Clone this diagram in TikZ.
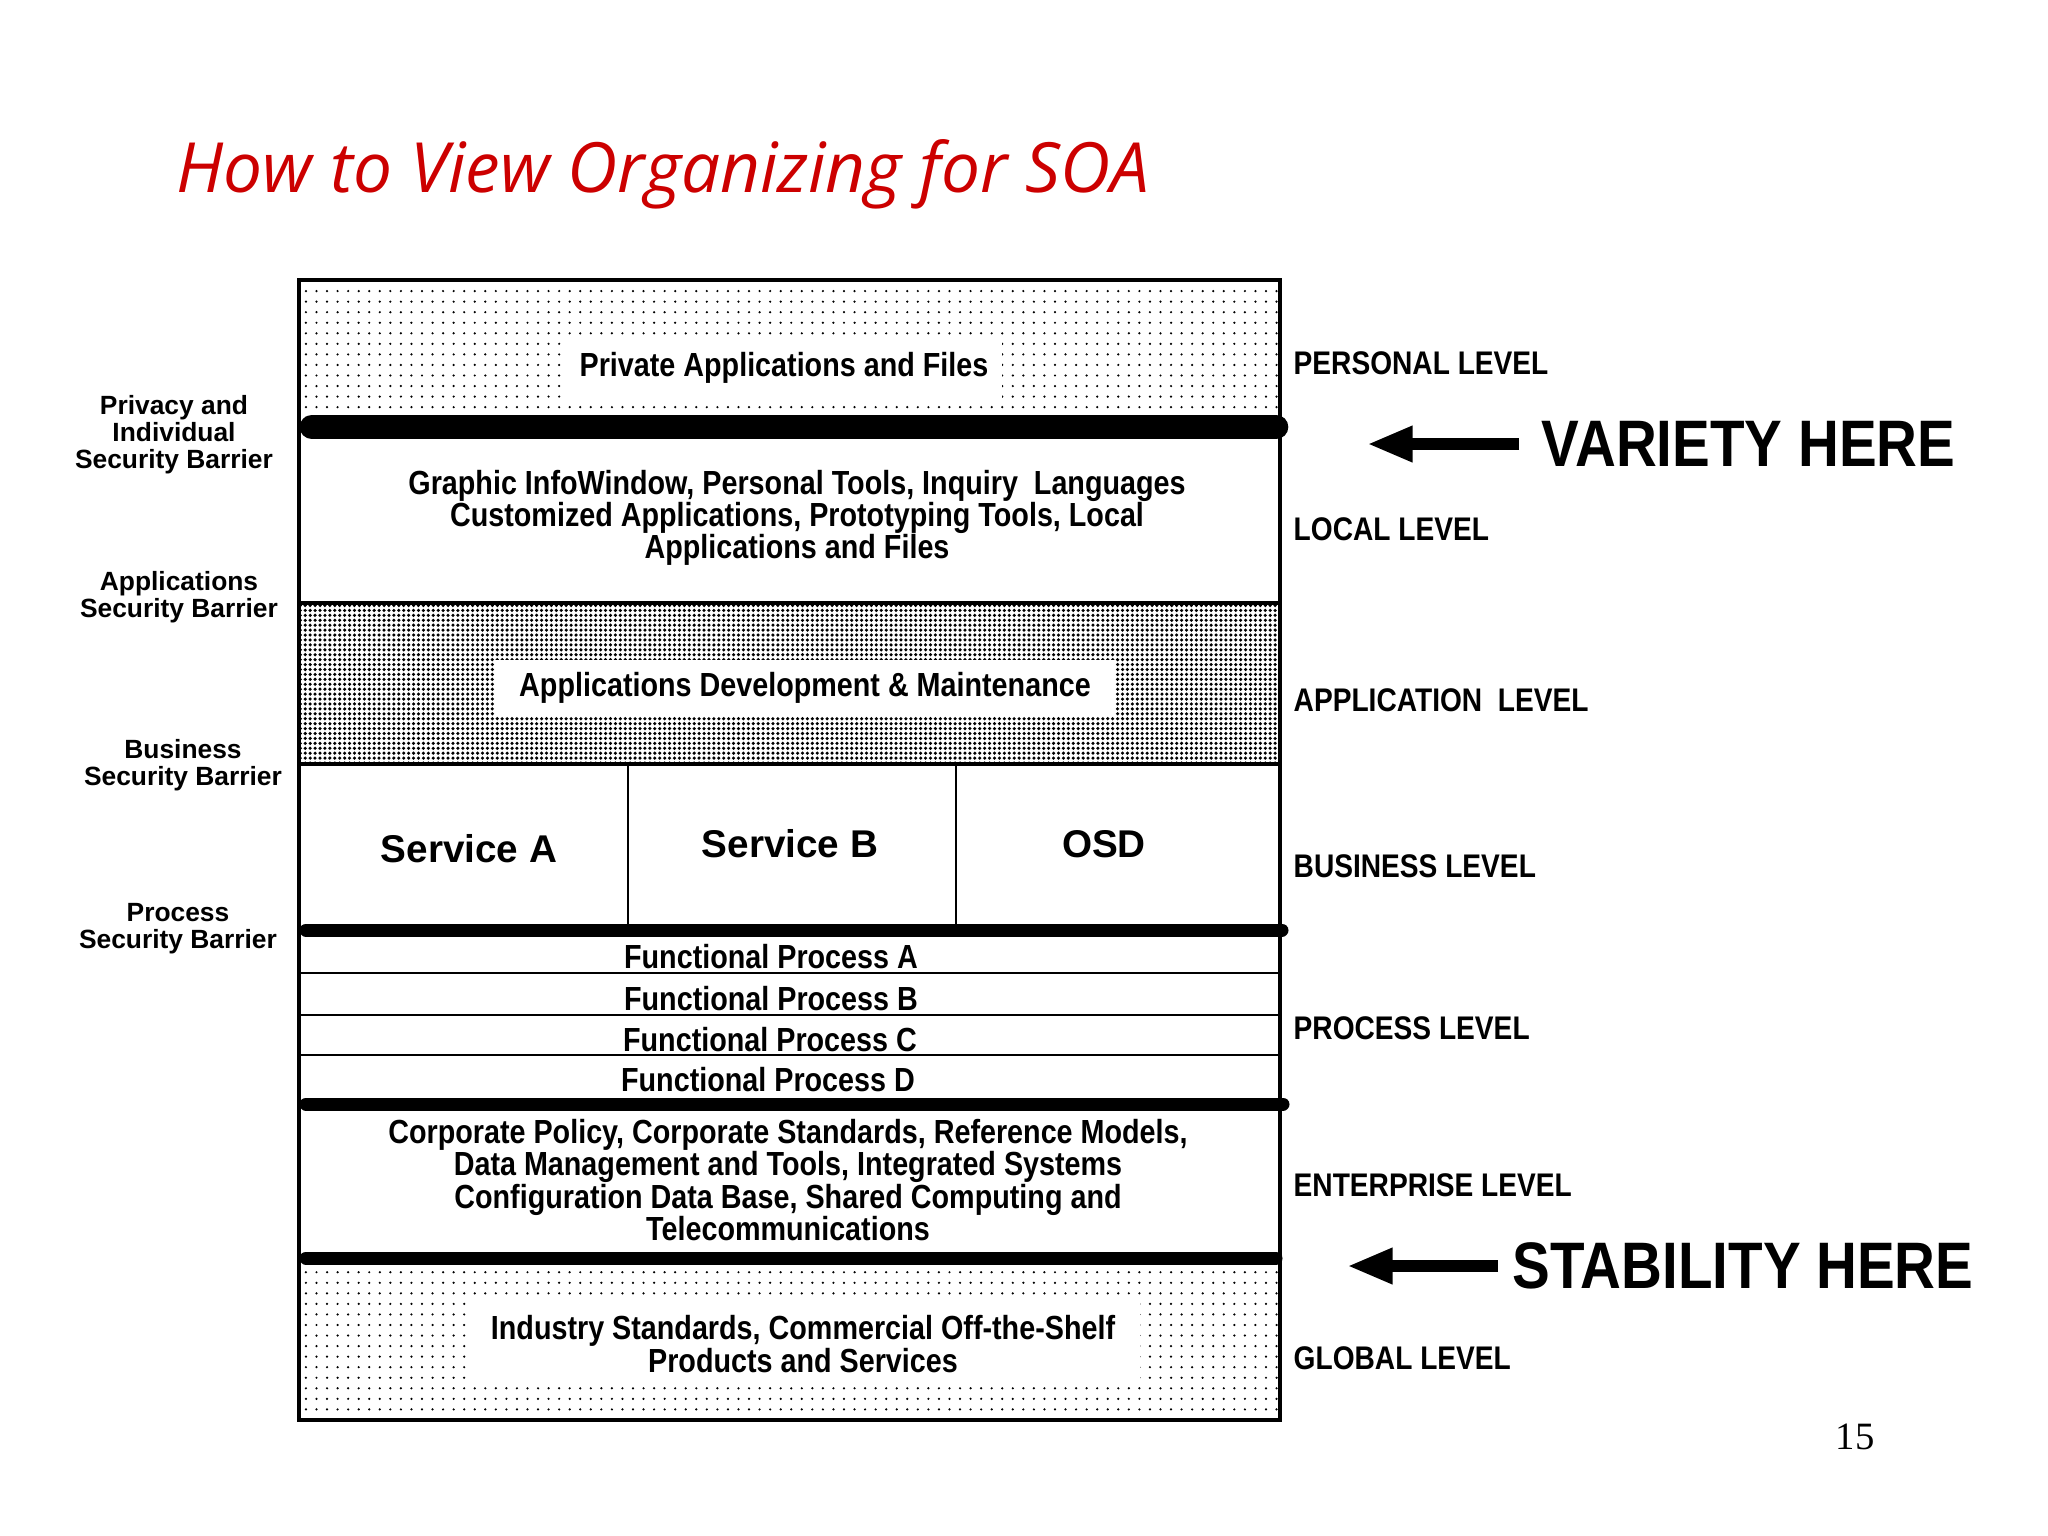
\documentclass[tikz,border=0pt]{standalone}
\usepackage{fontspec}
\setmainfont{Liberation Sans}
\newfontfamily\condfont[FakeStretch=0.86]{Liberation Sans}
\newfontfamily\titlefont{Open Sans}
\newfontfamily\pagefont{Liberation Serif}
\usetikzlibrary{arrows.meta,patterns.meta}
\definecolor{titlered}{RGB}{204,0,0}

\begin{document}
\begin{tikzpicture}[x=0.01cm,y=-0.01cm,
	boxtext/.style={font=\condfont\bfseries\fontsize{9.5}{9.2}\selectfont, align=center, inner sep=1pt},
	levelname/.style={font=\condfont\bfseries\fontsize{9.3}{10}\selectfont, anchor=west, inner sep=0pt},
	barrier/.style={font=\bfseries\fontsize{7.5}{7.7}\selectfont, align=center, inner sep=0pt},
	service/.style={font=\bfseries\fontsize{11}{13}\selectfont, inner sep=0pt},
	bigword/.style={font=\condfont\bfseries\fontsize{18.7}{20}\selectfont, anchor=west, inner sep=0pt},
	bigarrow/.style={line width=3.3pt, -{Triangle[length=13pt,width=9.5pt]}},
	sparse/.style={pattern={Dots[distance=3pt,radius=0.35pt]}},
	dense/.style={pattern={Dots[distance=1.4pt,radius=0.5pt]}}]
	\useasboundingbox (0,0) rectangle (2048,1536);

	\node[font=\titlefont\itshape\fontsize{19.7}{24}\selectfont, text=titlered, anchor=base west, inner sep=0pt] (title) at (176,192) {How to View Organizing for SOA};

	% shaded layers
	\fill[sparse] (299,280) rectangle (1280,420);
	\fill[dense] (299,603) rectangle (1280,764);
	\fill[sparse] (299,1258) rectangle (1280,1420);

	% texts in the stack
	\node[boxtext, fill=white, inner xsep=4pt, inner ysep=5pt] (personal) at (784,368) {Private Applications and Files};
	\node[boxtext] (local) at (797,518) {Graphic InfoWindow, Personal Tools, Inquiry\ \ Languages\\ Customized Applications, Prototyping Tools, Local\\ Applications and Files};
	\node[boxtext, fill=white, inner xsep=7pt, inner ysep=3.5pt] (appdev) at (805,688) {Applications Development \& Maintenance};
	\node[service] (svcA) at (469,849) {Service A};
	\node[service] (svcB) at (790,844) {Service B};
	\node[service] (osd) at (1104,844) {OSD};
	\node[boxtext] (fpA) at (771,957) {Functional Process A};
	\node[boxtext] (fpB) at (771,999) {Functional Process B};
	\node[boxtext] (fpC) at (770,1040) {Functional Process C};
	\node[boxtext] (fpD) at (768,1080) {Functional Process D};
	\node[boxtext] (enterprise) at (788,1180) {Corporate Policy, Corporate Standards, Reference Models,\\ Data Management and Tools, Integrated Systems\\ Configuration Data Base, Shared Computing and\\ Telecommunications};
	\node[boxtext, fill=white, inner xsep=7pt, inner ysep=4pt] (global) at (803,1344) {Industry Standards, Commercial Off-the-Shelf\\ Products and Services};

	% layer lines
	\draw[line width=1pt] (299,603) -- (1280,603);
	\draw[line width=1pt] (299,764) -- (1280,764);
	\draw[line width=0.8pt] (628,764) -- (628,930);
	\draw[line width=0.8pt] (956,764) -- (956,930);
	\foreach \y in {973,1015,1055}
		\draw[line width=0.6pt] (299,\y) -- (1280,\y);

	% barriers
	\draw[line width=7pt, line cap=round] (312,427) -- (1276,427);
	\draw[line width=3.7pt, line cap=round] (306,930) -- (1282,930);
	\draw[line width=3.7pt, line cap=round] (306,1104) -- (1283,1104);
	\draw[line width=3.7pt, line cap=round] (306,1258) -- (1276,1258);
	\draw[line width=1.4pt] (299,280) rectangle (1280,1420);

	% barrier names
	\node[barrier] (privacy) at (174,435) {Privacy and\\ Individual\\ Security Barrier};
	\node[barrier] (appbar) at (179,597) {Applications\\ Security Barrier};
	\node[barrier] (busbar) at (183,765) {Business\\ Security Barrier};
	\node[barrier] (procbar) at (178,929) {Process\\ Security Barrier};

	% level names
	\node[levelname] (lvlpersonal) at (1293,363) {PERSONAL LEVEL};
	\node[levelname] (lvllocal) at (1293,529) {LOCAL LEVEL};
	\node[levelname] (lvlapp) at (1293,700) {APPLICATION\ \ LEVEL};
	\node[levelname] (lvlbusiness) at (1293,866) {BUSINESS LEVEL};
	\node[levelname] (lvlprocess) at (1293,1028) {PROCESS LEVEL};
	\node[levelname] (lvlenterprise) at (1293,1185) {ENTERPRISE LEVEL};
	\node[levelname] (lvlglobal) at (1293,1358) {GLOBAL LEVEL};

	\node[bigword] (variety) at (1541,444) {VARIETY HERE};
	\coordinate (vtip) at (1367,444);
	\draw[bigarrow] ([xshift=-0.22cm]variety.west) -- (vtip);
	\node[bigword] (stability) at (1512,1266) {STABILITY HERE};
	\coordinate (stip) at (1347,1266);
	\draw[bigarrow] ([xshift=-0.14cm]stability.west) -- (stip);

	\node[font=\pagefont\fontsize{11}{13}\selectfont, inner sep=0pt] (pageno) at (1855,1437) {15};
\end{tikzpicture}
\end{document}
